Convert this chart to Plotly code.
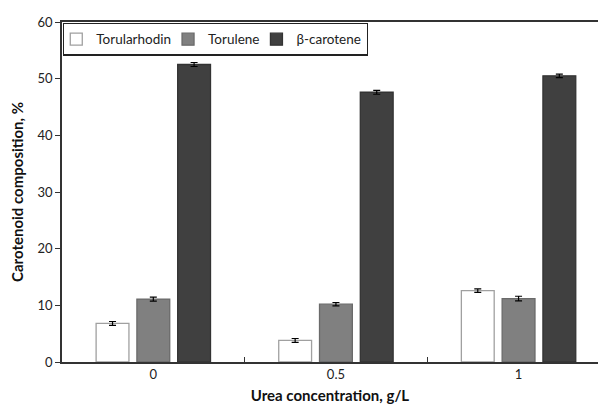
import plotly.graph_objects as go

categories = ["0", "0.5", "1"]
series_names = ["Torularhodin", "Torulene", "β-carotene"]
torularhodin = [6.8, 3.8, 12.6]
torulene = [11.1, 10.2, 11.2]
beta_carotene = [52.5, 47.6, 50.5]
torularhodin_err = [0.35, 0.35, 0.3]
torulene_err = [0.35, 0.3, 0.4]
beta_carotene_err = [0.35, 0.35, 0.3]

values = [torularhodin, torulene, beta_carotene]
errors = [torularhodin_err, torulene_err, beta_carotene_err]
fills = ["#ffffff", "#808080", "#404040"]
lines = ["#a0a0a0", "#6a6a6a", "#333333"]

FONT = "Lato, 'Open Sans', sans-serif"

fig = go.Figure()
for name, v, e, fc, lc in zip(series_names, values, errors, fills, lines):
    fig.add_trace(go.Bar(
        x=categories, y=v, name=name,
        marker=dict(color=fc, line=dict(color=lc, width=1.3)),
        error_y=dict(type="data", array=e, visible=True, color="#000000",
                     thickness=1.2, width=3.5),
    ))

fig.update_layout(
    width=598, height=412,
    margin=dict(l=62, r=0, t=22, b=50),
    paper_bgcolor="white", plot_bgcolor="white",
    barmode="group", bargap=0.33, bargroupgap=0.195,
    font=dict(family=FONT, size=13, color="#222222"),
    showlegend=True,
    legend=dict(orientation="h", x=0.002, y=0.998, xanchor="left", yanchor="top",
                bordercolor="#222222", borderwidth=1.2, bgcolor="white",
                font=dict(size=13.5, color="#222222"), itemwidth=30,
                tracegroupgap=0, indentation=-8),
    xaxis=dict(
        type="category", range=[-0.5, 2.435],
        showline=True, linecolor="#333333", linewidth=1.5, mirror=True,
        ticks="inside", ticklen=5, tickcolor="#333333", tickson="boundaries",
        showgrid=False, zeroline=False,
        tickfont=dict(size=13, color="#222222"),
        title=dict(text="<b>Urea concentration, g/L</b>", font=dict(size=15, color="#111111"), standoff=9),
    ),
    yaxis=dict(
        range=[0, 60], dtick=10,
        showline=True, linecolor="#333333", linewidth=1.5,
        ticks="outside", ticklen=5, tickcolor="#333333",
        showgrid=False, zeroline=False,
        tickfont=dict(size=13, color="#222222"),
        title=dict(text="<b>Carotenoid composition, %</b>", font=dict(size=15, color="#111111"), standoff=10),
    ),
)

fig.write_html("out.html")
